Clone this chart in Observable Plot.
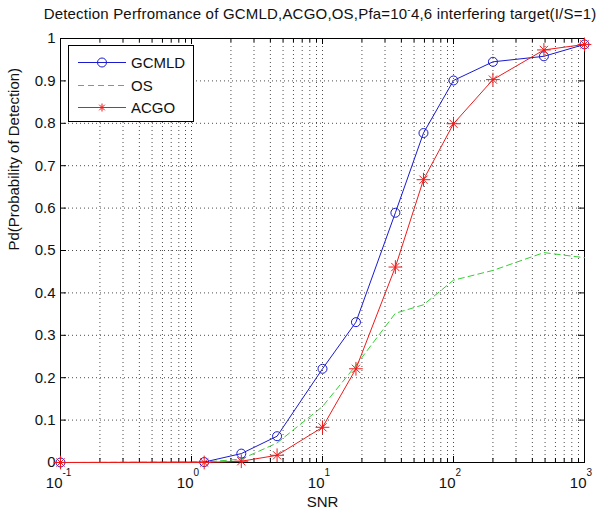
<!DOCTYPE html>
<html><head><meta charset="utf-8">
<script src="https://cdn.jsdelivr.net/npm/d3@7"></script>
<script src="https://cdn.jsdelivr.net/npm/@observablehq/plot@0.6"></script>
<style>
body{margin:0;background:#fff;font-family:"Liberation Sans",Arial,sans-serif;}
#wrap{position:relative;width:602px;height:511px;overflow:hidden;}
#title{height:28px;width:602px;box-sizing:border-box;padding-left:38px;text-align:center;white-space:nowrap;font-size:15px;letter-spacing:0.2px;line-height:28px;color:#111;}
#title sup{font-size:10px;vertical-align:6px;line-height:0;}
#chart svg{display:block;}
#legend{position:absolute;left:68px;top:45px;}
</style></head><body>
<div id="wrap">
<div id="title">Detection Perfromance of GCMLD,ACGO,OS,Pfa=10<sup>-</sup>4,6 interfering target(I/S=1)</div>
<div id="chart"></div>
<svg id="legend" width="126" height="77" font-family="Liberation Sans, Arial, sans-serif">
  <rect x="0.5" y="0.5" width="125" height="76" fill="#fff" stroke="#000"/>
  <line x1="10" x2="58" y1="17.5" y2="17.5" stroke="#1a1ad0"/>
  <circle cx="34" cy="17.5" r="4.5" fill="none" stroke="#1a1ad0"/>
  <text x="63" y="23" font-size="15" fill="#111">GCMLD</text>
  <line x1="10" x2="58" y1="40.5" y2="40.5" stroke="#33d033" stroke-dasharray="6,4"/>
  <text x="63" y="46" font-size="15" fill="#111">OS</text>
  <line x1="10" x2="58" y1="62.5" y2="62.5" stroke="#ee1a1a"/>
  <path d="M34 58.5v8M30 62.5h8M31.2 59.7l5.6 5.6M36.8 59.7l-5.6 5.6" stroke="#ee1a1a" fill="none"/>
  <text x="63" y="68" font-size="15" fill="#111">ACGO</text>
</svg>
</div>
<script>
// Data
const snr   = [0.1, 1.25, 2.4, 4.5, 10, 18, 36, 59, 100, 200, 490, 1000];
const gcmld = [0, 0.001, 0.021, 0.062, 0.221, 0.331, 0.589, 0.777, 0.901, 0.945, 0.958, 0.986];
const os    = [0, 0.001, 0.008, 0.046, 0.132, 0.229, 0.352, 0.372, 0.430, 0.453, 0.495, 0.483];
const acgo  = [0, 0.000, 0.003, 0.017, 0.083, 0.221, 0.461, 0.667, 0.799, 0.903, 0.973, 0.986];
const yTicks = [0, 0.1, 0.2, 0.3, 0.4, 0.5, 0.6, 0.7, 0.8, 0.9, 1];
const yTickLabels = ["0","0.1","0.2","0.3","0.4","0.5","0.6","0.7","0.8","0.9","1"];
const xMajor = [0.1, 1, 10, 100, 1000];
const xExp = ["-1", "0", "1", "2", "3"];
const xMinor = [];
for (const d of [0.1, 1, 10, 100]) for (let k = 2; k <= 9; k++) xMinor.push(+(d * k).toPrecision(3));

const rows = (ys) => snr.map((x, i) => ({x, y: ys[i]}));
const G = rows(gcmld), O = rows(os), A = rows(acgo);
const yLab = yTicks.map((v, i) => ({v, t: yTickLabels[i]}));
const xLab = xMajor.map((v, i) => ({v, e: xExp[i]}));

const mL = 60, mR = 18, mT = 10, mB = 49, W = 602, H = 483;
const fw = W - mL - mR, fh = H - mT - mB;
const blue = "#1a1ad0", green = "#33d033", red = "#ee1a1a";
const grid = {stroke: "#000", strokeOpacity: 0.7, strokeDasharray: "1,3"};
const font = 15;

const chart = Plot.plot({
  width: W, height: H,
  marginLeft: mL, marginRight: mR, marginTop: mT, marginBottom: mB,
  style: {fontFamily: "Liberation Sans, Arial, sans-serif", background: "#fff", color: "#111"},
  x: {type: "log", domain: [0.1, 1000], axis: null},
  y: {domain: [0, 1], axis: null},
  marks: [
    Plot.ruleX([...xMajor, ...xMinor], {x: d => d, ...grid}),
    Plot.ruleY(yTicks, {y: d => d, ...grid}),
    Plot.tickX(xMajor, {x: d => d, insetTop: fh - 6, stroke: "#000"}),
    Plot.tickX(xMajor, {x: d => d, insetBottom: fh - 6, stroke: "#000"}),
    Plot.tickX(xMinor, {x: d => d, insetTop: fh - 4, stroke: "#000"}),
    Plot.tickX(xMinor, {x: d => d, insetBottom: fh - 4, stroke: "#000"}),
    Plot.tickY(yTicks, {y: d => d, insetRight: fw - 6, stroke: "#000"}),
    Plot.tickY(yTicks, {y: d => d, insetLeft: fw - 6, stroke: "#000"}),
    Plot.frame({stroke: "#000"}),
    Plot.text(yLab, {y: "v", text: "t", frameAnchor: "left", textAnchor: "end", dx: -5, fontSize: font, fill: "#111"}),
    Plot.text(xLab, {x: "v", text: () => "10", frameAnchor: "bottom", textAnchor: "end", lineAnchor: "bottom", dx: 2, dy: 25, fontSize: font, fill: "#111"}),
    Plot.text(xLab, {x: "v", text: "e", frameAnchor: "bottom", textAnchor: "start", lineAnchor: "bottom", dx: 2, dy: 13, fontSize: 10, fill: "#111"}),
    Plot.text(["SNR"], {text: d => d, frameAnchor: "bottom", lineAnchor: "bottom", dy: 44, fontSize: font, fill: "#111"}),
    Plot.text(["Pd(Probability of Detection)"], {text: d => d, frameAnchor: "left", rotate: -90, dx: -46, fontSize: font, fill: "#111"}),
    Plot.line(O, {x: "x", y: "y", stroke: green, strokeWidth: 1, strokeDasharray: "6,4"}),
    Plot.line(G, {x: "x", y: "y", stroke: blue, strokeWidth: 1}),
    Plot.line(A, {x: "x", y: "y", stroke: red, strokeWidth: 1}),
    Plot.dot(G, {x: "x", y: "y", r: 4.5, stroke: blue, fill: "none", strokeWidth: 1}),
    Plot.dot(A, {x: "x", y: "y", symbol: "plus", r: 4.5, stroke: red, strokeWidth: 1}),
    Plot.dot(A, {x: "x", y: "y", symbol: "times", r: 3.8, stroke: red, strokeWidth: 1})
  ]
});
document.getElementById("chart").appendChild(chart);
</script>
</body></html>
